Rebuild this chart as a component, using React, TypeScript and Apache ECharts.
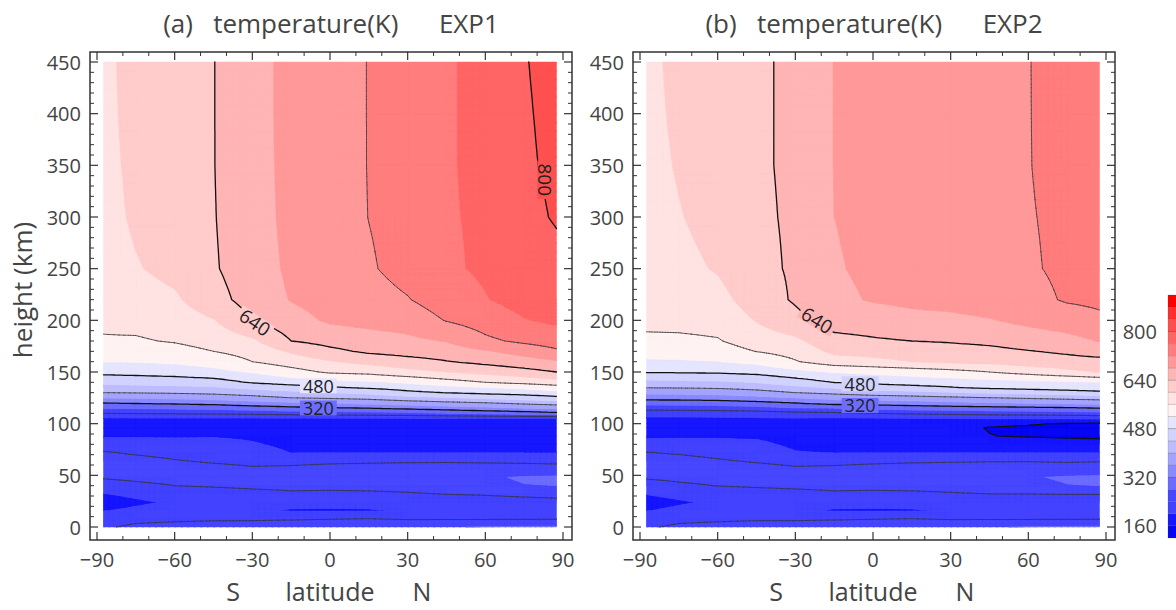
import React, { useEffect, useRef } from 'react';
import * as echarts from 'echarts';

// ---------------- data ----------------
const LATS = [-87.5, -75, -60, -45, -30, -15, 0, 15, 30, 45, 60, 75, 87.5];
const HEIGHTS = [0, 8, 16, 24, 32, 40, 48, 56, 64, 72, 80, 88, 96, 100, 105, 110, 115, 120, 125, 130, 135, 140, 150, 160, 170, 180, 200, 220, 250, 300, 350, 400, 450];

// temperature (K): one profile (over HEIGHTS) per latitude in LATS
const EXP1_TEMP: number[][] = [
  [236, 222, 199, 190, 199, 222, 244, 252, 250, 243, 220, 196, 187, 188, 196, 240, 280, 320, 360, 400, 425, 450, 491, 520, 536, 557, 566, 573, 580, 586, 589, 591, 592],
  [246, 232, 204, 196, 205, 232, 248, 254, 250, 236, 218, 196, 187, 188, 196, 242, 283, 324, 364, 402, 428, 453, 494, 522, 541, 556, 571, 582, 597, 606, 609, 611, 612],
  [250, 234, 210, 203, 215, 240, 252, 254, 242, 230, 215, 196, 187, 188, 196, 244, 287, 328, 368, 405, 431, 457, 498, 526, 546, 563, 580, 594, 612, 620, 623, 624, 625],
  [252, 236, 212, 206, 222, 244, 254, 250, 236, 226, 214, 197, 187, 188, 196, 246, 291, 334, 375, 410, 436, 462, 508, 537, 560, 575, 598, 625, 636, 638, 639, 639, 639],
  [256, 235, 206, 208, 228, 248, 254, 244, 232, 218, 204, 193, 186, 188, 196, 250, 300, 345, 387, 419, 450, 484, 523, 560, 574, 593, 640, 657, 662, 666, 667, 668, 668],
  [262, 236, 197, 212, 234, 250, 256, 246, 232, 199, 190, 186, 185, 188, 197, 256, 309, 353, 400, 430, 463, 497, 545, 579, 605, 640, 665, 682, 687, 689, 690, 690, 690],
  [266, 238, 196, 212, 232, 250, 258, 250, 234, 199, 188, 185, 185, 188, 197, 260, 315, 362, 405, 440, 476, 508, 566, 597, 630, 654, 686, 697, 701, 703, 704, 705, 705],
  [270, 240, 197, 213, 233, 252, 260, 252, 235, 199, 188, 185, 185, 188, 197, 265, 320, 370, 412, 450, 486, 514, 572, 612, 647, 664, 692, 705, 716, 720.5, 721, 721, 721],
  [274, 236, 203, 215, 236, 255, 263, 254, 236, 199, 188, 185, 185, 188, 198, 270, 330, 380, 427, 471, 496, 525, 588, 625, 655, 672, 697, 718, 733, 734, 736, 737, 737],
  [278, 236, 208, 220, 241, 262, 270, 256, 236, 199, 188, 185, 185, 188, 198, 280, 340, 390, 435, 481, 508, 543, 600, 638, 661, 682, 722, 740, 754, 756, 757, 757, 757],
  [282, 236, 212, 226, 243, 272, 276, 258, 234, 199, 188, 185, 185, 188, 198, 290, 350, 398, 448, 490, 520, 560, 612, 651, 676, 712, 738, 758, 766, 767, 768, 768, 768],
  [284, 236, 214, 230, 246, 279, 283, 258, 232, 199, 188, 185, 185, 188, 198, 300, 360, 410, 458, 497, 528, 572, 626, 664, 695, 728, 758, 775, 787, 794, 797, 798, 799],
  [285, 237, 215, 232, 248, 280, 285, 256, 230, 199, 188, 185, 185, 188, 198, 310, 366, 420, 469, 507, 543, 582, 640, 675, 714, 738, 768, 781, 793, 802, 804, 805, 806],
];

const EXP2_TEMP: number[][] = [
  [236, 222, 199, 190, 201, 224, 244, 253, 251, 241, 214, 194, 186, 188, 194, 213, 256, 296, 336, 370, 402, 429, 483, 515, 534, 552, 570, 575, 580, 585, 588, 589, 590],
  [246, 232, 205, 197, 207, 233, 249, 255, 250, 237, 214, 195, 186, 188, 194, 214, 257, 297, 337, 371, 403, 430, 484, 516, 536, 552, 572, 581, 590, 598, 603, 607, 610],
  [250, 234, 210, 204, 216, 241, 253, 254, 243, 231, 213, 195, 186, 188, 195, 216, 260, 300, 340, 374, 406, 433, 486, 519, 540, 557, 575, 588, 603, 613, 618, 620, 622],
  [253, 236, 212, 207, 223, 245, 255, 250, 237, 225, 208, 194, 186, 188, 196, 220, 266, 308, 348, 384, 414, 442, 492, 530, 561, 580, 602, 618, 630, 634, 636, 636, 636],
  [256, 235, 206, 208, 228, 248, 254, 244, 232, 202, 192, 189, 186, 188, 198, 228, 278, 320, 360, 400, 430, 460, 508, 557, 575, 592, 628, 645, 645, 645, 645, 645, 645],
  [262, 236, 197, 212, 234, 250, 256, 246, 232, 199, 188, 184, 184, 188, 195, 232, 280, 336, 373, 410, 445, 481, 522, 582, 609, 626, 660, 672, 677, 680, 681, 681, 681],
  [266, 238, 196, 212, 232, 250, 258, 250, 234, 199, 186, 180, 180, 188, 197, 240, 292, 337, 378, 422, 460, 490, 530, 590, 614, 635, 662, 683, 687, 689, 690, 690, 690],
  [270, 240, 197, 213, 233, 252, 260, 252, 236, 199, 184, 176, 175, 182, 199, 245, 298, 342, 385, 428, 468, 496, 537, 600, 620, 640, 670, 688, 693, 695, 696, 697, 697],
  [274, 236, 203, 214, 236, 256, 264, 254, 237, 199, 180, 168, 166, 175, 200, 250, 302, 350, 392, 436, 478, 500, 546, 608, 626, 643, 672, 692, 699, 701, 702, 703, 703],
  [278, 236, 208, 219, 240, 262, 268, 255, 238, 199, 178, 160.5, 159, 165, 202, 255, 306, 357, 399, 445, 488, 505, 560, 611, 630, 648, 678, 698, 705, 708, 709, 710, 710],
  [282, 236, 212, 222, 240, 270, 277, 258, 238, 199, 175, 158, 157, 162, 203, 258, 310, 362, 405, 452, 495, 509, 575, 620, 638, 658, 690, 708, 716, 718, 719, 719, 719],
  [284, 236, 214, 224, 241, 279, 284, 258, 236, 199, 172, 156, 154, 158, 203, 262, 314, 368, 412, 460, 502, 514, 590, 626, 646, 668, 700, 724, 727, 727, 730, 732, 733],
  [285, 237, 215, 225, 241, 280, 286, 256, 238, 199, 170, 155, 152, 155, 206, 268, 320, 372, 418, 470, 505, 520, 603, 628, 656, 682, 712, 728, 735, 738, 740, 741, 742],
];

const FILL_LEVELS = [120, 160, 200, 240, 280, 320, 360, 400, 440, 480, 520, 560, 600, 640, 680, 720, 760, 800, 840, 880, 920];
const FILL_COLORS = [
  '#0606f2', '#1616ff', '#4343ff', '#4747ff', '#6c6cff', '#8a8aff', '#a4a4ff', '#bcbcff', '#d2d2ff', '#e5e5ff',
  '#fff2f2', '#ffe2e2', '#ffcbcb', '#ffb5b5', '#ff9999', '#ff7d7d', '#ff6565', '#ff5050', '#ff3030', '#ff0000',
];
const LINE_LEVELS = [160, 240, 320, 400, 480, 560, 640, 720, 800];
const THICK_LEVELS = [160, 320, 480, 640, 800];
const COLORBAR_LABELS = [160, 320, 480, 640, 800];

const X_TICKS = [-90, -60, -30, 0, 30, 60, 90];
const X_MINOR = [-80, -70, -50, -40, -20, -10, 10, 20, 40, 50, 70, 80];
const Y_TICKS = [0, 50, 100, 150, 200, 250, 300, 350, 400, 450];
const Y_MINOR = [10, 20, 30, 40, 60, 70, 80, 90, 110, 120, 130, 140, 160, 170, 180, 190, 210, 220, 230, 240, 260, 270, 280, 290, 310, 320, 330, 340, 360, 370, 380, 390, 410, 420, 430, 440];

type ContourLabel = { text: string; lat: number; h: number; rot: number; size: number };
const EXP1_LABELS: ContourLabel[] = [
  { text: '640', lat: -29, h: 198, rot: -0.6, size: 19 },
  { text: '480', lat: -4.5, h: 136.6, rot: 0, size: 18 },
  { text: '320', lat: -4.5, h: 115.2, rot: 0, size: 18 },
  { text: '800', lat: 83, h: 336, rot: -Math.PI / 2, size: 19 },
];
const EXP2_LABELS: ContourLabel[] = [
  { text: '640', lat: -21.6, h: 200, rot: -0.55, size: 19 },
  { text: '480', lat: -5, h: 138.6, rot: 0, size: 18 },
  { text: '320', lat: -5, h: 117.6, rot: 0, size: 18 },
];

// ---------------- style / layout ----------------
const FONT = '"Open Sans", "DejaVu Sans", sans-serif';
const TEXT_COLOR = '#444';
const AXIS_COLOR = '#333';
// frame (= grid) in pixels; the data range -90..90 / 0..450 sits inside with margins
const FRAME_TOP = 52;
const FRAME_H = 488;
const FRAME_W = 482;
const PX_PER_DEG = 466 / 180;
const PX_PER_KM = 465 / 450;
const X_MIN = -90 - 7 / PX_PER_DEG;
const X_MAX = 90 + 9 / PX_PER_DEG;
const Y_MIN = 0 - 13 / PX_PER_KM;
const Y_MAX = 450 + 10 / PX_PER_KM;
const PANELS = [
  { left: 90, title: '(a)   temperature(K)      EXP1', temp: EXP1_TEMP, labels: EXP1_LABELS },
  { left: 633, title: '(b)   temperature(K)      EXP2', temp: EXP2_TEMP, labels: EXP2_LABELS },
];

type P = [number, number, number];

function bandOf(v: number): number {
  for (let k = 0; k < FILL_COLORS.length; k++) {
    if (v < FILL_LEVELS[k + 1]) return k;
  }
  return FILL_COLORS.length - 1;
}

function sampleAt(temp: number[][], lat: number, h: number): number {
  let i = 0;
  while (i < LATS.length - 2 && LATS[i + 1] < lat) i++;
  let j = 0;
  while (j < HEIGHTS.length - 2 && HEIGHTS[j + 1] < h) j++;
  const s = Math.max(0, Math.min(1, (lat - LATS[i]) / (LATS[i + 1] - LATS[i])));
  const t = Math.max(0, Math.min(1, (h - HEIGHTS[j]) / (HEIGHTS[j + 1] - HEIGHTS[j])));
  return temp[i][j] * (1 - s) * (1 - t) + temp[i + 1][j] * s * (1 - t) + temp[i][j + 1] * (1 - s) * t + temp[i + 1][j + 1] * s * t;
}

function clip(poly: P[], L: number, keepAbove: boolean): P[] {
  const out: P[] = [];
  const n = poly.length;
  for (let i = 0; i < n; i++) {
    const a = poly[i];
    const b = poly[(i + 1) % n];
    const ain = keepAbove ? a[2] >= L : a[2] <= L;
    const bin = keepAbove ? b[2] >= L : b[2] <= L;
    if (ain) out.push(a);
    if (ain !== bin) {
      const t = (L - a[2]) / (b[2] - a[2]);
      out.push([a[0] + (b[0] - a[0]) * t, a[1] + (b[1] - a[1]) * t, L]);
    }
  }
  return out;
}

const r1 = (n: number) => Math.round(n * 10) / 10;
const polyPath = (pts: P[]) => 'M' + pts.map((p) => r1(p[0]) + ' ' + r1(p[1])).join('L') + 'Z';

function makeContourRenderer(temp: number[][], labels: ContourLabel[]) {
  return (_params: any, api: any) => {
    const xs = LATS.map((lat) => api.coord([lat, 0])[0]);
    const ys = HEIGHTS.map((h) => api.coord([0, h])[1]);
    const bands: string[][] = FILL_COLORS.map(() => []);
    const lines: string[][] = LINE_LEVELS.map(() => []);
    const SUB = 6;

    const tri = (a: P, b: P, c: P) => {
      const lo = Math.min(a[2], b[2], c[2]);
      const hi = Math.max(a[2], b[2], c[2]);
      const k0 = bandOf(lo);
      const k1 = bandOf(hi);
      if (k0 === k1) {
        bands[k0].push(polyPath([a, b, c]));
      } else {
        for (let k = k0; k <= k1; k++) {
          let pts: P[] = [a, b, c];
          if (k > k0) pts = clip(pts, FILL_LEVELS[k], true);
          if (k < k1 && pts.length >= 3) pts = clip(pts, FILL_LEVELS[k + 1], false);
          if (pts.length >= 3) bands[k].push(polyPath(pts));
        }
      }
      LINE_LEVELS.forEach((L, li) => {
        if (!(lo < L && L <= hi)) return;
        const vs = [a, b, c];
        const cross: [number, number][] = [];
        for (let e = 0; e < 3; e++) {
          const p = vs[e];
          const q = vs[(e + 1) % 3];
          if ((p[2] >= L) !== (q[2] >= L)) {
            const t = (L - p[2]) / (q[2] - p[2]);
            cross.push([p[0] + (q[0] - p[0]) * t, p[1] + (q[1] - p[1]) * t]);
          }
        }
        if (cross.length === 2) {
          lines[li].push('M' + r1(cross[0][0]) + ' ' + r1(cross[0][1]) + 'L' + r1(cross[1][0]) + ' ' + r1(cross[1][1]));
        }
      });
    };

    for (let i = 0; i < LATS.length - 1; i++) {
      for (let j = 0; j < HEIGHTS.length - 1; j++) {
        const v00 = temp[i][j];
        const v10 = temp[i + 1][j];
        const v01 = temp[i][j + 1];
        const v11 = temp[i + 1][j + 1];
        const x0 = xs[i], x1 = xs[i + 1], y0 = ys[j], y1 = ys[j + 1];
        const lo = Math.min(v00, v10, v01, v11);
        const hi = Math.max(v00, v10, v01, v11);
        if (bandOf(lo) === bandOf(hi)) {
          bands[bandOf(lo)].push(polyPath([[x0, y0, lo], [x1, y0, lo], [x1, y1, lo], [x0, y1, lo]]));
          continue;
        }
        const pt = (s: number, t: number): P => [
          x0 + (x1 - x0) * s,
          y0 + (y1 - y0) * t,
          v00 * (1 - s) * (1 - t) + v10 * s * (1 - t) + v01 * (1 - s) * t + v11 * s * t,
        ];
        for (let a = 0; a < SUB; a++) {
          for (let b = 0; b < SUB; b++) {
            const s0 = a / SUB, s1 = (a + 1) / SUB, t0 = b / SUB, t1 = (b + 1) / SUB;
            const p00 = pt(s0, t0), p10 = pt(s1, t0), p11 = pt(s1, t1), p01 = pt(s0, t1);
            tri(p00, p10, p11);
            tri(p00, p11, p01);
          }
        }
      }
    }

    const children: any[] = [];
    bands.forEach((arr, k) => {
      if (!arr.length) return;
      children.push({
        type: 'path',
        shape: { pathData: arr.join('') },
        style: { fill: FILL_COLORS[k], stroke: FILL_COLORS[k], lineWidth: 0.5 },
        silent: true,
      });
    });
    lines.forEach((arr, li) => {
      if (!arr.length) return;
      const thick = THICK_LEVELS.indexOf(LINE_LEVELS[li]) >= 0;
      children.push({
        type: 'path',
        shape: { pathData: arr.join('') },
        style: {
          fill: 'none',
          stroke: thick ? '#111' : '#333',
          lineWidth: thick ? 1.3 : 0.75,
          lineCap: 'round',
          lineJoin: 'round',
        },
        silent: true,
      });
    });
    labels.forEach((lb) => {
      const p = api.coord([lb.lat, lb.h]);
      const local = sampleAt(temp, lb.lat, lb.h);
      children.push({
        type: 'text',
        x: p[0],
        y: p[1],
        rotation: lb.rot,
        silent: true,
        style: {
          text: lb.text,
          fill: '#222',
          font: `${lb.size}px ${FONT}`,
          lineHeight: 15,
          align: 'center',
          textAlign: 'center',
          verticalAlign: 'middle',
          textVerticalAlign: 'middle',
          backgroundColor: FILL_COLORS[bandOf(local)],
          padding: [0, 3],
        },
      });
    });
    return { type: 'group', children };
  };
}

// inward ticks on all four sides of a panel frame
function frameTickRenderer(_params: any, api: any) {
  const children: any[] = [];
  const seg = (x1: number, y1: number, x2: number, y2: number, w: number) =>
    children.push({ type: 'line', shape: { x1, y1, x2, y2 }, style: { stroke: AXIS_COLOR, lineWidth: w }, silent: true });
  const xt = (v: number, len: number, w: number) => {
    const b = api.coord([v, Y_MIN]);
    const t = api.coord([v, Y_MAX]);
    seg(b[0], b[1], b[0], b[1] - len, w);
    seg(t[0], t[1], t[0], t[1] + len, w);
  };
  const yt = (v: number, len: number, w: number) => {
    const l = api.coord([X_MIN, v]);
    const r = api.coord([X_MAX, v]);
    seg(l[0], l[1], l[0] + len, l[1], w);
    seg(r[0], r[1], r[0] - len, r[1], w);
  };
  X_TICKS.forEach((v) => xt(v, 8, 1.2));
  X_MINOR.forEach((v) => xt(v, 4, 1));
  Y_TICKS.forEach((v) => yt(v, 8, 1.2));
  Y_MINOR.forEach((v) => yt(v, 4, 1));
  return { type: 'group', children };
}

function colorbarRenderer(params: any, api: any) {
  const i = params.dataIndex;
  const p0 = api.coord([0, FILL_LEVELS[i]]);
  const p1 = api.coord([1, FILL_LEVELS[i + 1]]);
  return {
    type: 'rect',
    shape: { x: p0[0], y: p1[1], width: p1[0] - p0[0], height: p0[1] - p1[1] },
    style: { fill: FILL_COLORS[i], stroke: 'rgba(70,70,70,0.3)', lineWidth: 0.6 },
    silent: true,
  };
}

const minusFmt = (v: number) => String(v).replace('-', '\u2212');

function buildOption() {
  const grids: any[] = [];
  const xAxes: any[] = [];
  const yAxes: any[] = [];
  const series: any[] = [];
  const graphics: any[] = [];

  const labelStyle = { fontSize: 20, color: TEXT_COLOR, fontFamily: FONT };
  const centered = { align: 'center', textAlign: 'center', verticalAlign: 'middle', textVerticalAlign: 'middle' };

  PANELS.forEach((pn, g) => {
    grids.push({
      left: pn.left, top: FRAME_TOP, width: FRAME_W, height: FRAME_H,
      show: true, borderColor: AXIS_COLOR, borderWidth: 1.5, backgroundColor: 'transparent',
      outerBoundsMode: 'none', containLabel: false,
    });
    xAxes.push({
      type: 'value', gridIndex: g, position: 'bottom', min: X_MIN, max: X_MAX,
      axisLine: { show: false }, axisTick: { show: false }, splitLine: { show: false },
      axisLabel: { ...labelStyle, margin: 9, formatter: minusFmt, customValues: X_TICKS },
    });
    yAxes.push({
      type: 'value', gridIndex: g, position: 'left', min: Y_MIN, max: Y_MAX,
      axisLine: { show: false }, axisTick: { show: false }, splitLine: { show: false },
      axisLabel: { ...labelStyle, margin: 9, customValues: Y_TICKS },
    });

    series.push({
      type: 'custom',
      coordinateSystem: 'cartesian2d',
      xAxisIndex: g,
      yAxisIndex: g,
      data: [[0, 225]],
      renderItem: makeContourRenderer(pn.temp, pn.labels),
      silent: true,
      z: 2,
    });
    series.push({
      type: 'custom',
      coordinateSystem: 'cartesian2d',
      xAxisIndex: g,
      yAxisIndex: g,
      data: [[0, 225]],
      renderItem: frameTickRenderer,
      silent: true,
      z: 5,
    });

    const cx = pn.left + FRAME_W / 2;
    graphics.push({
      type: 'text', z: 100, x: cx, y: 23, silent: true,
      style: { text: pn.title, font: `26px ${FONT}`, fill: TEXT_COLOR, ...centered },
    });
    const lx = pn.left + 7 + 233;
    [['S', lx - 97], ['latitude', lx], ['N', lx + 92]].forEach(([t, x]) => {
      graphics.push({
        type: 'text', z: 100, x: x as number, y: 591, silent: true,
        style: { text: t as string, font: `25px ${FONT}`, fill: TEXT_COLOR, ...centered },
      });
    });
  });

  graphics.push({
    type: 'text', z: 100, x: 22, y: 290, rotation: Math.PI / 2, silent: true,
    style: { text: 'height (km)', font: `26px ${FONT}`, fill: TEXT_COLOR, ...centered },
  });

  // colour bar
  grids.push({ left: 1168, top: 295, width: 20, height: 243, outerBoundsMode: 'none', containLabel: false });
  xAxes.push({ type: 'value', gridIndex: 2, min: 0, max: 1, show: false });
  yAxes.push({
    type: 'value', gridIndex: 2, min: FILL_LEVELS[0], max: FILL_LEVELS[FILL_LEVELS.length - 1], position: 'left',
    axisLine: { show: false }, splitLine: { show: false },
    axisTick: { show: true, inside: true, length: 20, customValues: COLORBAR_LABELS, lineStyle: { color: '#555', width: 1 } },
    axisLabel: { ...labelStyle, margin: 11, customValues: COLORBAR_LABELS },
  });
  series.push({
    type: 'custom',
    coordinateSystem: 'cartesian2d',
    xAxisIndex: 2,
    yAxisIndex: 2,
    data: FILL_COLORS.map((_, i) => [0.5, (FILL_LEVELS[i] + FILL_LEVELS[i + 1]) / 2]),
    renderItem: colorbarRenderer,
    silent: true,
    z: 1,
  });

  return {
    animation: false,
    backgroundColor: '#ffffff',
    grid: grids,
    xAxis: xAxes,
    yAxis: yAxes,
    series,
    graphic: { elements: graphics },
  };
}

export default function App() {
  const ref = useRef<HTMLDivElement>(null);
  useEffect(() => {
    if (!ref.current) return;
    const chart = echarts.init(ref.current, null, { renderer: 'svg' });
    chart.setOption(buildOption() as any);
    return () => chart.dispose();
  }, []);
  return (
    <div
      ref={ref}
      style={{ position: 'absolute', left: 0, top: 0, width: 1176, height: 610, background: '#fff' }}
    />
  );
}
